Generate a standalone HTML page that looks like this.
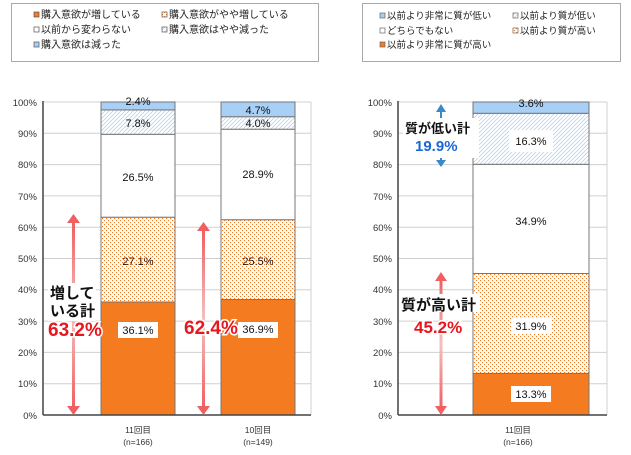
<!DOCTYPE html>
<html><head><meta charset="utf-8"><style>
html,body{margin:0;padding:0;background:#fff;}
svg{display:block;font-family:"Liberation Sans","Noto Sans CJK JP",sans-serif;}
</style></head><body>
<svg width="631" height="455" viewBox="0 0 631 455">
<defs>
<pattern id="dot" width="4" height="4" patternUnits="userSpaceOnUse"><rect width="4" height="4" fill="#fff"/><rect x="0" y="0" width="1.1" height="1.1" fill="#f47b20"/><rect x="2" y="2" width="1.1" height="1.1" fill="#f47b20"/></pattern>
<pattern id="hat" width="4" height="4" patternUnits="userSpaceOnUse"><rect width="4" height="4" fill="#fff"/><path d="M-1,1 L1,-1 M0,4 L4,0 M3,5 L5,3" stroke="#a8cdef" stroke-width="0.7"/></pattern>
<linearGradient id="ra" x1="0" y1="0" x2="0" y2="1"><stop offset="0" stop-color="#f06060"/><stop offset="0.5" stop-color="#f4c0c0"/><stop offset="1" stop-color="#f06060"/></linearGradient>
</defs>
<rect x="11.5" y="3.5" width="307" height="58" fill="#fff" stroke="#aaa"/>
<g font-size="10" fill="#222">
<rect x="34" y="12" width="5" height="5" fill="#f47b20" stroke="#555" stroke-width="0.7"/><text x="41" y="18">購入意欲が増している</text>
<rect x="162" y="12" width="5" height="5" fill="url(#dot)" stroke="#555" stroke-width="0.7"/><text x="169" y="18">購入意欲がやや増している</text>
<rect x="34" y="27" width="5" height="5" fill="#fff" stroke="#555" stroke-width="0.7"/><text x="41" y="33">以前から変わらない</text>
<rect x="162" y="27" width="5" height="5" fill="url(#hat)" stroke="#555" stroke-width="0.7"/><text x="169" y="33">購入意欲はやや減った</text>
<rect x="34" y="42" width="5" height="5" fill="#a8cff5" stroke="#555" stroke-width="0.7"/><text x="41" y="48">購入意欲は減った</text>
</g>
<rect x="362.5" y="3.5" width="258" height="58" fill="#fff" stroke="#aaa"/>
<g font-size="9.5" fill="#222">
<rect x="380" y="13" width="5" height="5" fill="#a8cff5" stroke="#666" stroke-width="0.7"/><text x="387" y="19">以前より非常に質が低い</text>
<rect x="513" y="13" width="5" height="5" fill="url(#hat)" stroke="#666" stroke-width="0.7"/><text x="520" y="19">以前より質が低い</text>
<rect x="380" y="28" width="5" height="5" fill="#fff" stroke="#666" stroke-width="0.7"/><text x="387" y="34">どちらでもない</text>
<rect x="513" y="28" width="5" height="5" fill="url(#dot)" stroke="#666" stroke-width="0.7"/><text x="520" y="34">以前より質が高い</text>
<rect x="380" y="42" width="5" height="5" fill="#f47b20" stroke="#666" stroke-width="0.7"/><text x="387" y="48">以前より非常に質が高い</text>
</g>
<g stroke="#d0d0d0" stroke-width="1">
<line x1="43" y1="102" x2="311" y2="102"/><line x1="43" y1="133.3" x2="311" y2="133.3"/><line x1="43" y1="164.6" x2="311" y2="164.6"/><line x1="43" y1="195.9" x2="311" y2="195.9"/><line x1="43" y1="227.2" x2="311" y2="227.2"/><line x1="43" y1="258.5" x2="311" y2="258.5"/><line x1="43" y1="289.8" x2="311" y2="289.8"/><line x1="43" y1="321.1" x2="311" y2="321.1"/><line x1="43" y1="352.4" x2="311" y2="352.4"/><line x1="43" y1="383.7" x2="311" y2="383.7"/>
<line x1="311" y1="102" x2="311" y2="415"/>
<line x1="398" y1="102" x2="607" y2="102"/><line x1="398" y1="133.3" x2="607" y2="133.3"/><line x1="398" y1="164.6" x2="607" y2="164.6"/><line x1="398" y1="195.9" x2="607" y2="195.9"/><line x1="398" y1="227.2" x2="607" y2="227.2"/><line x1="398" y1="258.5" x2="607" y2="258.5"/><line x1="398" y1="289.8" x2="607" y2="289.8"/><line x1="398" y1="321.1" x2="607" y2="321.1"/><line x1="398" y1="352.4" x2="607" y2="352.4"/><line x1="398" y1="383.7" x2="607" y2="383.7"/>
<line x1="607" y1="102" x2="607" y2="415"/>
</g>
<g font-size="9.5" fill="#333" text-anchor="end">
<text x="37" y="106">100%</text><text x="37" y="137">90%</text><text x="37" y="168">80%</text><text x="37" y="200">70%</text><text x="37" y="231">60%</text><text x="37" y="262">50%</text><text x="37" y="293">40%</text><text x="37" y="325">30%</text><text x="37" y="356">20%</text><text x="37" y="387">10%</text><text x="37" y="419">0%</text>
<text x="392" y="106">100%</text><text x="392" y="137">90%</text><text x="392" y="168">80%</text><text x="392" y="200">70%</text><text x="392" y="231">60%</text><text x="392" y="262">50%</text><text x="392" y="293">40%</text><text x="392" y="325">30%</text><text x="392" y="356">20%</text><text x="392" y="387">10%</text><text x="392" y="419">0%</text>
</g>
<g stroke="#777" stroke-width="1">
<rect x="101" y="302" width="74" height="113" fill="#f47b20"/>
<rect x="101" y="217.2" width="74" height="84.8" fill="url(#dot)"/>
<rect x="101" y="134.3" width="74" height="82.9" fill="#fff"/>
<rect x="101" y="109.9" width="74" height="24.4" fill="url(#hat)"/>
<rect x="101" y="102" width="74" height="7.9" fill="#a8cff5"/>
<rect x="221" y="299.5" width="74" height="115.5" fill="#f47b20"/>
<rect x="221" y="219.7" width="74" height="79.8" fill="url(#dot)"/>
<rect x="221" y="129.2" width="74" height="90.5" fill="#fff"/>
<rect x="221" y="116.7" width="74" height="12.5" fill="url(#hat)"/>
<rect x="221" y="102" width="74" height="14.7" fill="#a8cff5"/>
<rect x="473" y="373.4" width="116" height="41.6" fill="#f47b20"/>
<rect x="473" y="273.5" width="116" height="99.9" fill="url(#dot)"/>
<rect x="473" y="164.3" width="116" height="109.2" fill="#fff"/>
<rect x="473" y="113.3" width="116" height="51" fill="url(#hat)"/>
<rect x="473" y="102" width="116" height="11.3" fill="#a8cff5"/>
</g>
<g stroke="#444" stroke-width="1.5"><line x1="43" y1="101" x2="43" y2="415"/><line x1="43" y1="415" x2="311" y2="415"/><line x1="398" y1="101" x2="398" y2="415"/><line x1="398" y1="415" x2="607" y2="415"/></g>
<g font-size="11" fill="#111" text-anchor="middle">
<rect x="118" y="322" width="40" height="16" fill="#fff"/><text x="138" y="334">36.1%</text>
<text x="138" y="265">27.1%</text><text x="138" y="181">26.5%</text><text x="138" y="127">7.8%</text><text x="138" y="105">2.4%</text>
<rect x="238" y="322" width="40" height="16" fill="#fff"/><text x="258" y="333">36.9%</text>
<text x="258" y="265">25.5%</text><text x="258" y="178">28.9%</text><text x="258" y="127">4.0%</text><text x="258" y="114">4.7%</text>
<rect x="511" y="386" width="40" height="16" fill="#fff"/><text x="531" y="398">13.3%</text>
<rect x="511" y="318" width="40" height="16" fill="#fff"/><text x="531" y="330">31.9%</text>
<text x="531" y="225">34.9%</text>
<rect x="509" y="130" width="44" height="22" fill="#fff"/><text x="531" y="145">16.3%</text>
<text x="531" y="107">3.6%</text>
</g>
<g fill="#f06060">
<rect x="72" y="222" width="3" height="186" fill="url(#ra)"/><path d="M67,223 L73.5,214 L80,223Z"/><path d="M67,406 L73.5,415 L80,406Z"/>
<rect x="202" y="230" width="3" height="178" fill="url(#ra)"/><path d="M197,231 L203.5,222 L210,231Z"/><path d="M197,406 L203.5,415 L210,406Z"/>
<rect x="439.5" y="280" width="3" height="128" fill="url(#ra)"/><path d="M435,281 L441,272 L447,281Z"/><path d="M435,406 L441,415 L447,406Z"/>
</g>
<g fill="#3a8ac8"><rect x="440" y="110" width="2" height="56"/><path d="M436,112 L441,104 L446,112Z"/><path d="M436,160 L441,167 L446,160Z"/></g>
<rect x="48" y="283" width="48" height="38" fill="#fff"/>
<g font-weight="bold" fill="#111" font-size="15"><text x="50" y="298">増して</text><text x="50" y="316">いる計</text></g>
<g font-weight="bold" fill="#e8161e" font-size="19" stroke="#fff" stroke-width="3" paint-order="stroke"><text x="48" y="336">63.2%</text><text x="184" y="334">62.4%</text></g>
<rect x="403" y="118" width="76" height="40" fill="#fff"/>
<text x="405" y="133" font-size="13" font-weight="bold" fill="#111">質が低い計</text>
<text x="415" y="151" font-size="15" font-weight="bold" fill="#1a66d6">19.9%</text>
<rect x="400" y="294" width="80" height="18" fill="#fff"/>
<text x="401" y="310" font-size="15" font-weight="bold" fill="#111">質が高い計</text>
<text x="414" y="333" font-size="17" font-weight="bold" fill="#e8161e" stroke="#fff" stroke-width="3" paint-order="stroke">45.2%</text>
<g font-size="8.5" fill="#333" text-anchor="middle">
<text x="138" y="433">11回目</text><text x="138" y="445">(n=166)</text>
<text x="258" y="433">10回目</text><text x="258" y="445">(n=149)</text>
<text x="518" y="433">11回目</text><text x="518" y="445">(n=166)</text>
</g>
</svg>
</body></html>
